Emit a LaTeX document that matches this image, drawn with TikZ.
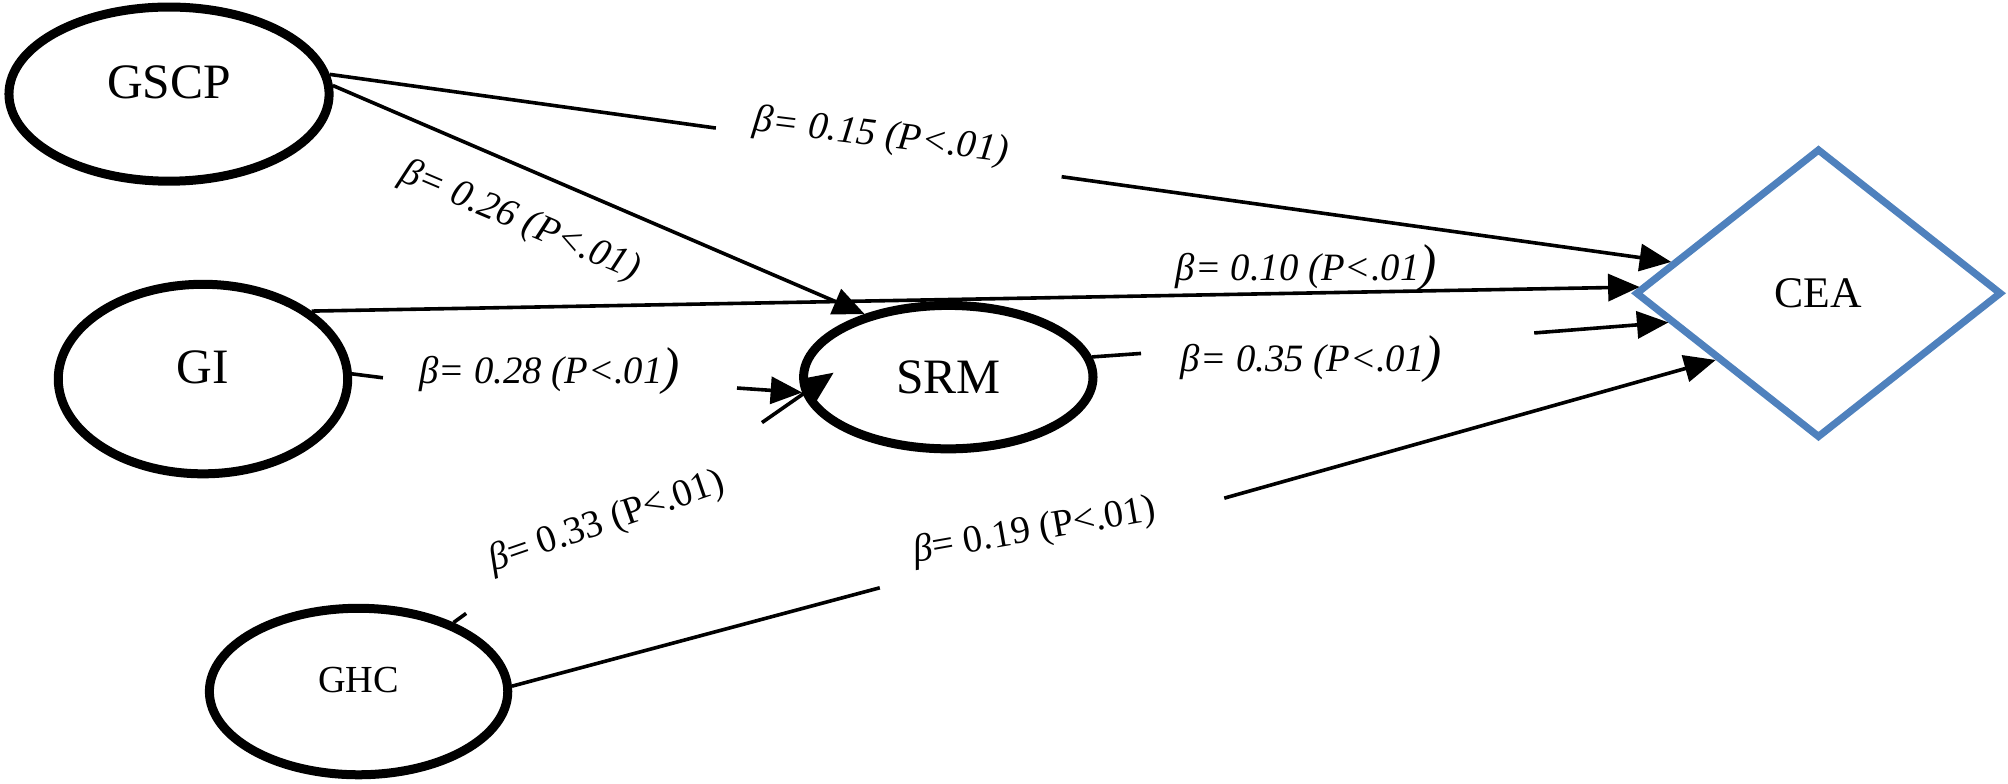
\documentclass[tikz,border=0pt]{standalone}
\usepackage{fontspec}
\setmainfont{Liberation Serif}
\usetikzlibrary{shapes.geometric,arrows.meta}
\definecolor{ceablue}{RGB}{79,129,189}
\newcommand{\bigparen}{{\fontsize{11.5}{10}\selectfont)}}

\begin{document}
\begin{tikzpicture}
        \useasboundingbox (0,0) rectangle (15.68,6.12);
        \tikzstyle{every node}=[inner sep=0pt]
        \tikzstyle{latent}=[ellipse,draw,line width=2pt,text depth=0.19cm,font=\fontsize{11}{13}\selectfont]
        \tikzstyle{coef}=[font=\fontsize{8.6}{10}\selectfont\itshape]
        \tikzstyle{coefup}=[font=\fontsize{8.6}{10}\selectfont]
        \tikzstyle{stub}=[line width=0.8pt]
        \tikzstyle{arrowline}=[line width=0.8pt,-{Triangle[length=7pt,width=6pt]}]
        \node[latent,minimum width=2.5cm,minimum height=1.36cm] (gscp) at (1.32,5.385) {GSCP};
        \node[latent,minimum width=2.26cm,minimum height=1.48cm] (gi) at (1.585,3.16) {GI};
        \node[latent,minimum width=2.26cm,minimum height=1.12cm,text depth=0pt] (srm) at (7.405,3.175) {SRM};
        \node[latent,minimum width=2.33cm,minimum height=1.3cm,font=\fontsize{8.5}{10}\selectfont] (ghc) at (2.80,0.72) {GHC};
        \node[diamond,draw=ceablue,line width=1.6pt,minimum width=2.86cm,minimum height=2.26cm,font=\fontsize{9.7}{11}\selectfont] (cea) at (14.20,3.83) {CEA};
        \coordinate (g1a) at (5.59,5.12);
        \coordinate (g1b) at (8.29,4.74);
        \coordinate (g4a) at (2.99,3.17);
        \coordinate (g4b) at (5.755,3.09);
        \coordinate (g5a) at (3.64,1.33);
        \coordinate (g5b) at (5.95,2.82);
        \coordinate (g6a) at (6.87,1.53);
        \coordinate (g6b) at (9.56,2.23);
        \coordinate (g7a) at (8.91,3.36);
        \coordinate (g7b) at (11.98,3.52);
        \draw[stub] (gscp.7) -- (g1a);
        \draw[arrowline] (g1b) -- (cea.168);
        \draw[arrowline] (gscp.3) -- (srm.143);
        \draw[arrowline] (gi.32) -- (cea.178);
        \draw[stub] (gi.2) -- (g4a);
        \draw[arrowline] (g4b) -- (srm.186);
        \draw[stub] (ghc.36) -- (g5a);
        \draw[arrowline] (g5b) -- ([shift={(0.27,0.035)}]srm.west);
        \draw[stub] (ghc.2) -- (g6a);
        \draw[arrowline] (g6b) -- (cea.213);
        \draw[stub] (srm.8) -- (g7a);
        \draw[arrowline] (g7b) -- (cea.191);
        \node[coef,rotate=-7] (l1) at (6.88,5.05) {β= 0.15 (P<.01)};
        \node[coef,rotate=-23] (l2) at (4.06,4.39) {β= 0.26 (P<.01)};
        \node[coef] (l3) at (10.20,4.03) {β= 0.10 (P<.01\bigparen};
        \node[coef] (l4) at (4.29,3.22) {β= 0.28 (P<.01\bigparen};
        \node[coefup,rotate=19] (l5) at (4.74,2.04) {\textit{β}= 0.33 (P<.01)};
        \node[coefup,rotate=10] (l6) at (8.08,1.97) {\textit{β}= 0.19 (P<.01)};
        \node[coef] (l7) at (10.24,3.32) {β= 0.35 (P<.01\bigparen};
\end{tikzpicture}
\end{document}
